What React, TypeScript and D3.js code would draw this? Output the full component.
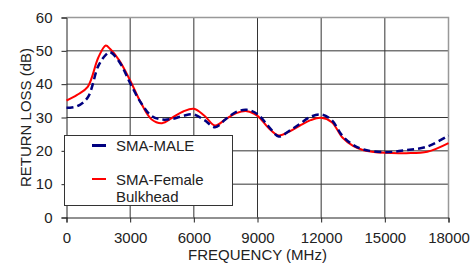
import { useEffect, useRef } from "react";
import * as d3 from "d3";

// frequency points (MHz)
const FREQ = [0, 500, 1000, 1500, 1850, 2050, 2500, 3000, 3500, 4000, 4500, 5000, 5500, 6000, 6500, 7000, 7500, 8000, 8500, 9000, 9500, 10000, 10500, 11000, 11500, 12000, 12500, 13000, 13500, 14000, 15000, 16000, 17000, 18000];

// return loss (dB)
const MALE = [32.9, 33.4, 36.0, 45.5, 48.8, 49.6, 46.6, 40.3, 34.5, 30.5, 29.4, 29.6, 30.5, 30.9, 29.2, 27.1, 29.5, 31.7, 32.3, 31.0, 27.5, 24.3, 26.0, 28.1, 30.2, 30.9, 29.2, 24.5, 21.8, 20.4, 19.6, 20.2, 21.3, 24.6];
const FEMALE = [35.1, 36.8, 39.2, 48.0, 51.6, 50.6, 47.0, 41.1, 34.5, 29.5, 28.3, 30.0, 31.8, 32.6, 30.5, 27.6, 29.5, 31.3, 31.9, 30.5, 27.0, 24.6, 25.8, 27.6, 29.2, 29.9, 28.6, 24.0, 21.5, 20.2, 19.4, 19.3, 19.7, 22.3];

const X_TICKS = [0, 3000, 6000, 9000, 12000, 15000, 18000];
const Y_TICKS = [0, 10, 20, 30, 40, 50, 60];

const FONT = "'Liberation Sans', Arial, sans-serif";
const FS = "15px";

export default function App() {
	const ref = useRef<SVGSVGElement>(null);

	useEffect(() => {
		const svg = d3.select(ref.current);
		svg.selectAll("*").remove();

		const x = d3.scaleLinear().domain([0, 18000]).range([66.5, 448.5]);
		const y = d3.scaleLinear().domain([0, 60]).range([217.5, 17.5]);

		// grid
		const grid = svg.append("g");
		grid
			.selectAll("line.v")
			.data(X_TICKS.slice(1, -1))
			.enter()
			.append("line")
			.attr("x1", (d) => x(d))
			.attr("x2", (d) => x(d))
			.attr("y1", y(0))
			.attr("y2", y(60))
			.attr("stroke", "#333")
			.attr("stroke-width", 1);
		grid
			.selectAll("line.h")
			.data(Y_TICKS.slice(1, -1))
			.enter()
			.append("line")
			.attr("x1", x(0))
			.attr("x2", x(18000))
			.attr("y1", (d) => y(d))
			.attr("y2", (d) => y(d))
			.attr("stroke", "#333")
			.attr("stroke-width", 1);

		// top & right border
		grid
			.append("path")
			.attr("d", `M${x(0)},${y(60)}H${x(18000)}V${y(0)}`)
			.attr("fill", "none")
			.attr("stroke", "#999")
			.attr("stroke-width", 1.5);

		// axes
		const axisY = d3.axisLeft(y).tickValues(Y_TICKS).tickSize(5).tickPadding(9);
		const gy = svg.append("g").attr("transform", `translate(${x(0)},0)`).call(axisY);
		const axisX = d3.axisBottom(x).tickValues(X_TICKS).tickSize(5).tickFormat(d3.format("d"));
		const gx = svg.append("g").attr("transform", `translate(0,${y(0)})`).call(axisX);
		[gx, gy].forEach((g) => {
			g.select(".domain").attr("stroke", "#222");
			g.selectAll(".tick line").attr("stroke", "#222");
			g.selectAll(".tick text")
				.attr("fill", "#222")
				.style("font-family", FONT)
				.style("font-size", FS);
		});
		gx.selectAll(".tick text").attr("dy", "0").attr("y", 25.5);

		// series
		const line = (vals: number[]) =>
			d3
				.line<number>()
				.x((_, i) => x(FREQ[i]))
				.y((d) => y(d))
				.curve(d3.curveCatmullRom.alpha(0.5))(vals);

		svg
			.append("path")
			.attr("d", line(FEMALE))
			.attr("fill", "none")
			.attr("stroke", "#ff0000")
			.attr("stroke-width", 2);
		svg
			.append("path")
			.attr("d", line(MALE))
			.attr("fill", "none")
			.attr("stroke", "#000080")
			.attr("stroke-width", 2.5)
			.attr("stroke-dasharray", "7,4");

		// legend
		const lg = svg.append("g");
		lg.append("rect")
			.attr("x", 64.5)
			.attr("y", 135.5)
			.attr("width", 168)
			.attr("height", 70)
			.attr("fill", "#fff")
			.attr("stroke", "#333")
			.attr("stroke-width", 1);
		lg.append("line")
			.attr("x1", 92).attr("x2", 106).attr("y1", 145.5).attr("y2", 145.5)
			.attr("stroke", "#000080").attr("stroke-width", 3);
		lg.append("line")
			.attr("x1", 92).attr("x2", 106).attr("y1", 179).attr("y2", 179)
			.attr("stroke", "#ff0000").attr("stroke-width", 2);
		const lt = lg.append("text")
			.style("font-family", FONT)
			.style("font-size", FS)
			.attr("fill", "#222");
		lt.append("tspan").attr("x", 116).attr("y", 151).text("SMA-MALE");
		lt.append("tspan").attr("x", 116).attr("y", 184.5).text("SMA-Female");
		lt.append("tspan").attr("x", 116).attr("y", 201.5).text("Bulkhead");

		// titles
		svg.append("text")
			.attr("transform", `translate(30.5,${(y(0) + y(60)) / 2}) rotate(-90)`)
			.attr("text-anchor", "middle")
			.style("font-family", FONT)
			.style("font-size", FS)
			.attr("fill", "#222")
			.text("RETURN LOSS (dB)");
		svg.append("text")
			.attr("x", 257.5)
			.attr("y", 259.7)
			.attr("text-anchor", "middle")
			.style("font-family", FONT)
			.style("font-size", FS)
			.attr("fill", "#222")
			.text("FREQUENCY (MHz)");
	}, []);

	return (
		<svg
			ref={ref}
			width={471}
			height={263}
			style={{ position: "absolute", left: 0, top: 0, background: "#fff" }}
		/>
	);
}
